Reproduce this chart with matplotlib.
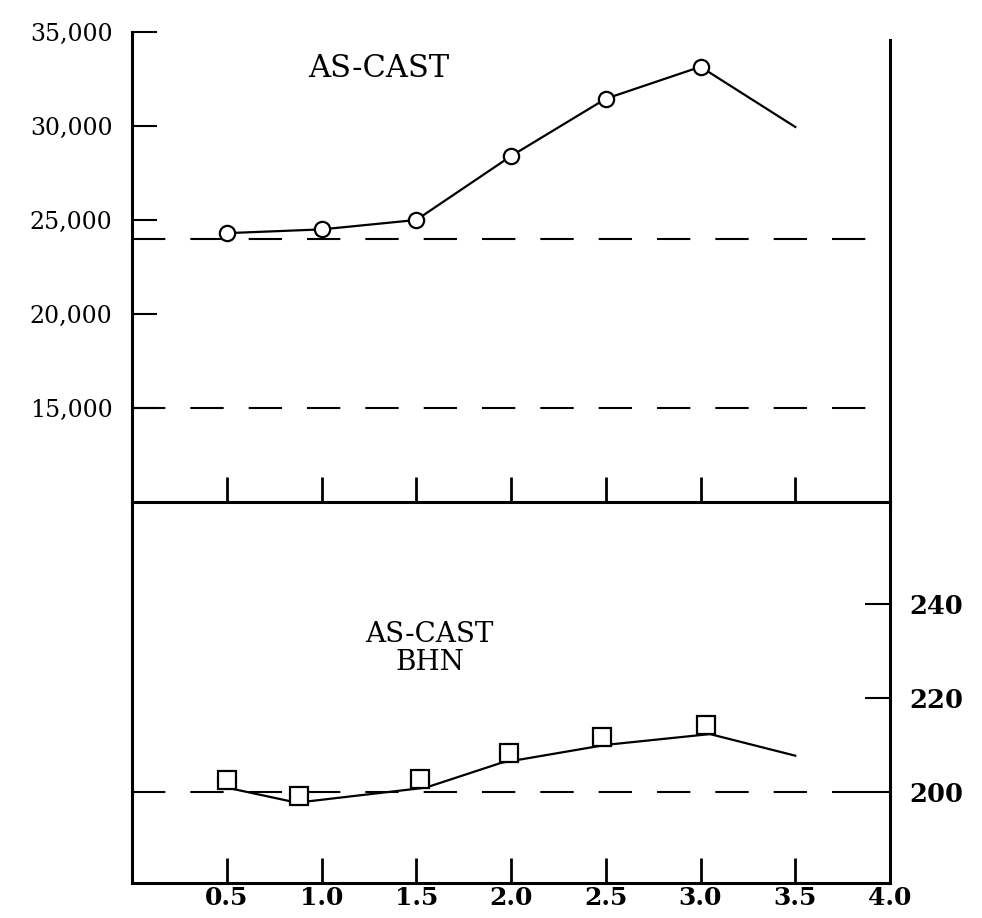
import matplotlib
matplotlib.use("Agg")
import matplotlib.pyplot as plt
from matplotlib.ticker import FixedLocator, FixedFormatter

# --- data ---
x_vals = [0.5, 1.0, 1.5, 2.0, 2.5, 3.0, 3.5]
tensile = [24300, 24500, 25000, 28400, 31450, 33150, 29950]
tensile_refs = [24000, 15000]
tensile_ticks = [15000, 20000, 25000, 30000, 35000]
tensile_labels = ["15,000", "20,000", "25,000", "30,000", "35,000"]

bhn_line_x = [0.5, 0.87, 1.55, 1.95, 2.5, 3.05, 3.5]
bhn_line = [200.9, 197.7, 200.9, 206.2, 210.0, 212.3, 207.7]
bhn_pts_x = [0.5, 0.88, 1.52, 1.99, 2.48, 3.03]
bhn_pts = [202.6, 199.1, 202.8, 208.3, 211.7, 214.3]
bhn_ref = 200
bhn_ticks = [200, 220, 240]
bhn_labels = ["200", "220", "240"]

x_ticks = [0.5, 1.0, 1.5, 2.0, 2.5, 3.0, 3.5, 4.0]
x_labels = ["0.5", "1.0", "1.5", "2.0", "2.5", "3.0", "3.5", "4.0"]

SERIF = "DejaVu Serif"
DASH = (0, (16, 12))

fig = plt.figure(figsize=(9.82, 9.18), dpi=100)
W, H = 982.0, 918.0
left, right = 132 / W, 890 / W
ax_top = fig.add_axes([left, (H - 502) / H, right - left, 470 / H])
ax_bot = fig.add_axes([left, (H - 883) / H, right - left, 381 / H])
ax_bot.patch.set_visible(False)

# --- top panel: tensile strength ---
ax_top.set_xlim(0, 4)
ax_top.set_ylim(10000, 35000)
for v in tensile_refs:
    ax_top.plot([0, 4], [v, v], color="black", lw=1.5, ls=DASH, zorder=1)
ax_top.plot(x_vals, tensile, color="black", lw=1.6, marker="o",
            markevery=list(range(6)), markersize=11,
            markerfacecolor="white", markeredgecolor="black",
            markeredgewidth=1.6, zorder=3)
ax_top.text(1.3, 33050, "AS-CAST", family=SERIF, fontsize=22,
            ha="center", va="center")

ax_top.spines["top"].set_visible(False)
ax_top.spines["right"].set_bounds(10000, 34550)
for s in ("left", "right", "bottom"):
    ax_top.spines[s].set_linewidth(2.2)
ax_top.yaxis.set_major_locator(FixedLocator(tensile_ticks))
ax_top.yaxis.set_major_formatter(FixedFormatter(tensile_labels))
ax_top.tick_params(axis="y", direction="in", length=18, width=1.5, pad=14,
                   labelsize=17, right=False)
ax_top.xaxis.set_major_locator(FixedLocator(x_vals))
ax_top.tick_params(axis="x", direction="in", length=18, width=2,
                   labelbottom=False)
for lab in ax_top.get_yticklabels():
    lab.set_family(SERIF)

# --- bottom panel: hardness ---
ax_bot.set_xlim(0, 4)
ax_bot.set_ylim(180.6, 261.7)
ax_bot.plot([0, 4], [bhn_ref, bhn_ref], color="black", lw=1.5, ls=DASH,
            zorder=1)
ax_bot.plot(bhn_line_x, bhn_line, color="black", lw=1.6, zorder=2)
ax_bot.plot(bhn_pts_x, bhn_pts, ls="none", marker="s", markersize=13,
            markerfacecolor="white", markeredgecolor="black",
            markeredgewidth=1.6, zorder=3)
ax_bot.text(1.57, 230.5, "AS-CAST\nBHN", family=SERIF, fontsize=20,
            ha="center", va="center", linespacing=1.05)

ax_bot.spines["top"].set_visible(False)
for s in ("left", "right", "bottom"):
    ax_bot.spines[s].set_linewidth(2.2)
ax_bot.yaxis.tick_right()
ax_bot.yaxis.set_major_locator(FixedLocator(bhn_ticks))
ax_bot.yaxis.set_major_formatter(FixedFormatter(bhn_labels))
ax_bot.tick_params(axis="y", direction="in", length=18, width=1.5, pad=14,
                   labelsize=18.5, left=False)
ax_bot.xaxis.set_major_locator(FixedLocator(x_ticks))
ax_bot.xaxis.set_major_formatter(FixedFormatter(x_labels))
ax_bot.tick_params(axis="x", direction="in", length=18, width=2, pad=2,
                   labelsize=18)
for lab in ax_bot.get_yticklabels() + ax_bot.get_xticklabels():
    lab.set_family(SERIF)
    lab.set_fontweight("bold")

fig.savefig("out.png", dpi=100)
plt.close(fig)
